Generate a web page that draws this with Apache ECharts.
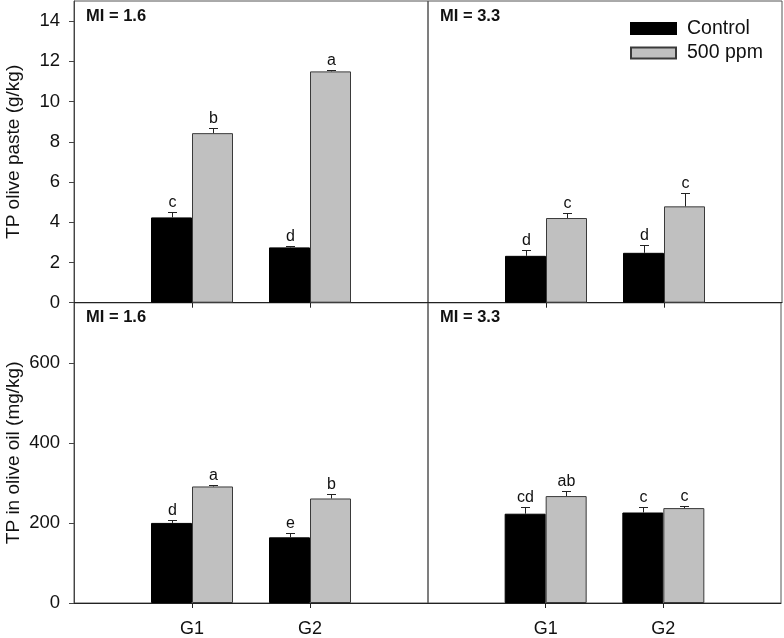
<!DOCTYPE html>
<html>
<head>
<meta charset="utf-8">
<script src="https://cdn.jsdelivr.net/npm/echarts@6/dist/echarts.min.js"></script>
<style>html,body{margin:0;padding:0;background:#fff}#c{width:784px;height:638px}</style>
</head>
<body>
<div id="c"></div>
<script>
// ---- data ----
const groups = ['G1', 'G2'];
const seriesNames = ['Control', '500 ppm'];
const panelLabels = ['MI = 1.6', 'MI = 3.3'];
const yTicksPaste = [0, 2, 4, 6, 8, 10, 12, 14];
const yTicksOil = [0, 200, 400, 600];

// TP olive paste (g/kg)
const pasteMI16Control = [4.24, 2.75];
const pasteMI16ControlErr = [0.26, 0.08];
const pasteMI16Ppm = [8.43, 11.5];
const pasteMI16PpmErr = [0.25, 0.07];
const pasteMI33Control = [2.33, 2.48];
const pasteMI33ControlErr = [0.27, 0.40];
const pasteMI33Ppm = [4.21, 4.79];
const pasteMI33PpmErr = [0.26, 0.67];

// TP in olive oil (mg/kg)
const oilMI16Control = [200, 164];
const oilMI16ControlErr = [8, 10];
const oilMI16Ppm = [291, 261];
const oilMI16PpmErr = [4, 10];
const oilMI33Control = [223, 226];
const oilMI33ControlErr = [18, 13];
const oilMI33Ppm = [267, 237];
const oilMI33PpmErr = [13, 5];

// significance letters
const pasteMI16ControlLet = ['c', 'd'];
const pasteMI16PpmLet = ['b', 'a'];
const pasteMI33ControlLet = ['d', 'd'];
const pasteMI33PpmLet = ['c', 'c'];
const oilMI16ControlLet = ['d', 'e'];
const oilMI16PpmLet = ['a', 'b'];
const oilMI33ControlLet = ['cd', 'c'];
const oilMI33PpmLet = ['ab', 'c'];

// ---- layout / style ----
const FONT = 'Liberation Sans, Arial, sans-serif';
const categories = [''].concat(groups).concat(['']);
const BARW = 41;
const colors = ['#000000', '#c0c0c0'];
const borders = ['#000000', '#3a3a3a'];

const L = 74, MID = 428, R = 782, T = 1, M = 302.7, B = 605;
const grids = [
  {left: L, top: T, width: MID - L, height: M - T},
  {left: MID, top: T, width: R - MID, height: M - T},
  {left: L, top: M, width: MID - L, height: B - M},
  {left: MID, top: M, width: R - MID, height: B - M}
].map(g => Object.assign({show: true, borderColor: '#555', borderWidth: 1, backgroundColor: 'transparent'}, g));

function xAxisFor(i, showLabels) {
  return {
    type: 'category', gridIndex: i, data: categories, boundaryGap: false,
    axisLine: {show: true, lineStyle: {color: '#222', width: 1}},
    axisTick: {show: true, length: 5, interval: (idx) => idx === 1 || idx === 2, lineStyle: {color: '#222'}},
    axisLabel: {show: showLabels, interval: 0, fontFamily: FONT, fontSize: 18, color: '#111', margin: 17},
    splitLine: {show: false}
  };
}
function yAxisFor(i, max, ticks, showAxis, name) {
  return {
    type: 'value', gridIndex: i, min: 0, max: max,
    name: showAxis ? name : '', nameLocation: 'middle', nameGap: 51,
    nameTextStyle: {fontFamily: FONT, fontSize: 19, color: '#111'},
    axisLine: {show: showAxis, lineStyle: {color: '#444'}},
    axisTick: {show: showAxis, length: 5, customValues: ticks, lineStyle: {color: '#444'}},
    axisLabel: {show: showAxis, customValues: ticks, fontFamily: FONT, fontSize: 18.5, color: '#111', margin: 14},
    splitLine: {show: false}
  };
}

const panels = [
  {c: pasteMI16Control, ce: pasteMI16ControlErr, cl: pasteMI16ControlLet, p: pasteMI16Ppm, pe: pasteMI16PpmErr, pl: pasteMI16PpmLet},
  {c: pasteMI33Control, ce: pasteMI33ControlErr, cl: pasteMI33ControlLet, p: pasteMI33Ppm, pe: pasteMI33PpmErr, pl: pasteMI33PpmLet},
  {c: oilMI16Control, ce: oilMI16ControlErr, cl: oilMI16ControlLet, p: oilMI16Ppm, pe: oilMI16PpmErr, pl: oilMI16PpmLet},
  {c: oilMI33Control, ce: oilMI33ControlErr, cl: oilMI33ControlLet, p: oilMI33Ppm, pe: oilMI33PpmErr, pl: oilMI33PpmLet}
];

const series = [];
panels.forEach((pn, i) => {
  [[pn.c, pn.ce, pn.cl], [pn.p, pn.pe, pn.pl]].forEach((trip, k) => {
    const vals = trip[0], errs = trip[1], lets = trip[2];
    series.push({
      type: 'bar', name: seriesNames[k], xAxisIndex: i, yAxisIndex: i,
      barWidth: BARW, barGap: '0%',
      itemStyle: {color: colors[k], borderColor: borders[k], borderWidth: 1},
      data: groups.map((g, j) => [j + 1, vals[j]]),
      emphasis: {disabled: true}, silent: true, z: 2
    });
    const off = (k === 0 ? -1 : 1) * BARW / 2;
    series.push({
      type: 'custom', xAxisIndex: i, yAxisIndex: i, silent: true, z: 3,
      data: groups.map((g, j) => [j + 1, vals[j], errs[j]]),
      encode: {x: 0, y: 1},
      renderItem: function (params, api) {
        const x = api.value(0), v = api.value(1), e = api.value(2);
        const b = api.coord([x, v]);
        const t = api.coord([x, v + e]);
        const cx = Math.round(b[0] + off) + 0.5;
        const ty = Math.round(t[1]) + 0.5;
        return {
          type: 'group',
          children: [
            {type: 'line', shape: {x1: cx, y1: b[1], x2: cx, y2: ty}, style: {stroke: '#222', lineWidth: 1}},
            {type: 'line', shape: {x1: cx - 4.5, y1: ty, x2: cx + 4.5, y2: ty}, style: {stroke: '#222', lineWidth: 1}},
            {type: 'text', style: {x: cx, y: ty - 2, text: lets[params.dataIndex], align: 'center', verticalAlign: 'bottom', font: '16px ' + FONT, fill: '#111'}}
          ]
        };
      }
    });
  });
});

const option = {
  animation: false,
  backgroundColor: '#fff',
  grid: grids,
  xAxis: [xAxisFor(0, false), xAxisFor(1, false), xAxisFor(2, true), xAxisFor(3, true)],
  yAxis: [
    yAxisFor(0, 15, yTicksPaste, true, 'TP olive paste (g/kg)'),
    yAxisFor(1, 15, yTicksPaste, false, ''),
    yAxisFor(2, 750, yTicksOil, true, 'TP in olive oil (mg/kg)'),
    yAxisFor(3, 750, yTicksOil, false, '')
  ],
  legend: {
    data: seriesNames, orient: 'vertical', left: 630, top: 18.5, padding: 0,
    icon: 'rect', itemWidth: 45, itemHeight: 11, itemGap: 4.5,
    textStyle: {fontFamily: FONT, fontSize: 19.5, color: '#111', padding: [0, 0, 0, 6]},
    selectedMode: false
  },
  title: [
    {text: panelLabels[0], left: 86, top: 8},
    {text: panelLabels[1], left: 440, top: 8},
    {text: panelLabels[0], left: 86, top: 309},
    {text: panelLabels[1], left: 440, top: 309}
  ].map(t => Object.assign(t, {padding: 0, textStyle: {fontFamily: FONT, fontSize: 16.5, fontWeight: 'bold', color: '#111'}})),
  series: series
};

const chart = echarts.init(document.getElementById('c'), null, {renderer: 'canvas'});
chart.setOption(option);
</script>
</body>
</html>
